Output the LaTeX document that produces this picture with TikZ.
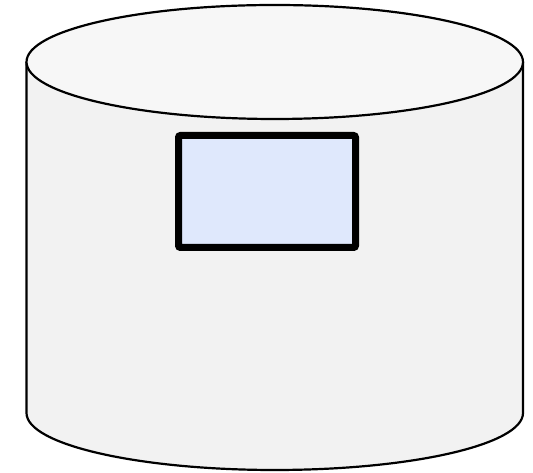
\documentclass[tikz,border=0pt]{standalone}
\usetikzlibrary{positioning}
\definecolor{DrumSide}{HTML}{F2F2F2}
\definecolor{DrumTop}{HTML}{F7F7F7}
\definecolor{TableBlue}{HTML}{DFE8FC}
\tikzset{
  drum/.style={draw=black, line width=2.2pt},
  tablebox/.style={draw=black, fill=TableBlue, line width=7pt, rounded corners=2pt,
                   minimum width=177pt, minimum height=112pt, inner sep=0pt}
}
\begin{document}
\begin{tikzpicture}[x=1pt,y=1pt]
  \useasboundingbox (0,0) rectangle (533,473);
  % side of the drum
  \filldraw[drum, fill=DrumSide] (26.5,411) -- (26.5,60)
    arc[start angle=180, end angle=360, x radius=248.25, y radius=57]
    -- (523,411);
  % lid
  \filldraw[drum, fill=DrumTop] (274.75,411) ellipse[x radius=248.25, y radius=57];
  \node[tablebox] (table) at (267,281.5) {};
\end{tikzpicture}
\end{document}
